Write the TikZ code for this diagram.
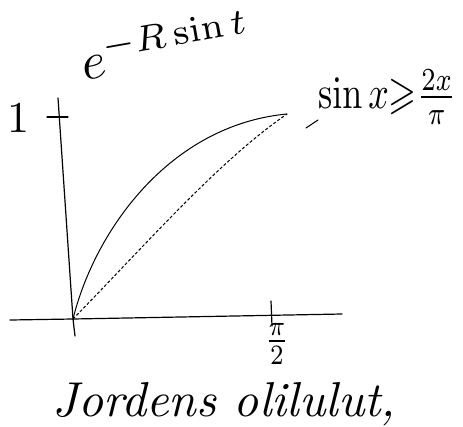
\documentclass[tikz,border=0pt]{standalone}
\usepackage{amssymb}
\usepackage{graphicx}
\begin{document}
\begin{tikzpicture}[x=1pt,y=-1pt,
  axis/.style={line width=1.2pt,line cap=round},
  curve/.style={line width=1pt,line cap=round},
  chord/.style={line width=1pt,densely dashed},
  lbl/.style={inner sep=0pt,font=\normalsize}]
\useasboundingbox (0,0) rectangle (463,426);
\coordinate (O) at (73,319);
\coordinate (ytop) at (58,98);
\coordinate (ybot) at (75,336);
\coordinate (xl) at (10,320);
\coordinate (xr) at (342,314);
\coordinate (P) at (287,114);
% axes
\draw[axis] (ybot) -- (O) -- (ytop);
\draw[axis] (xl) -- (O) -- (xr);
% ticks
\coordinate (t1a) at (47,117); \coordinate (t1b) at (68,117);
\draw[axis] (t1a) -- (t1b);
\coordinate (tpa) at (271,301); \coordinate (tpb) at (272,326);
\draw[axis] (tpa) -- (tpb);
% curve sin x
\draw[curve] (O) .. controls (95,230) and (170,125) .. (P);
% chord 2x/pi
\draw[chord] (O) .. controls (150,240) and (220,160) .. (P);
% leader mark
\coordinate (la) at (306,128); \coordinate (lb) at (318,120);
\draw[curve] (la) -- (lb);
% labels
\node[lbl] (one) at (18,118) {\scalebox{4.4}{1}};
\node[lbl] (pi2) at (277,344) {\scalebox{3.4}[4]{$\frac{\pi}{2}$}};
\node[lbl,rotate=10] (exp) at (165,44) {\scalebox{5.2}{$e^{-R\sin t}$}};
\node[lbl,anchor=west] (ineq) at (318,97) {\scalebox{3.6}[4.6]{$\sin x {\geqslant} \frac{2x}{\pi}$}};
\node[lbl] (cap) at (224,404) {\scalebox{4.9}{\itshape Jordens olilulut,}};
\end{tikzpicture}
\end{document}
